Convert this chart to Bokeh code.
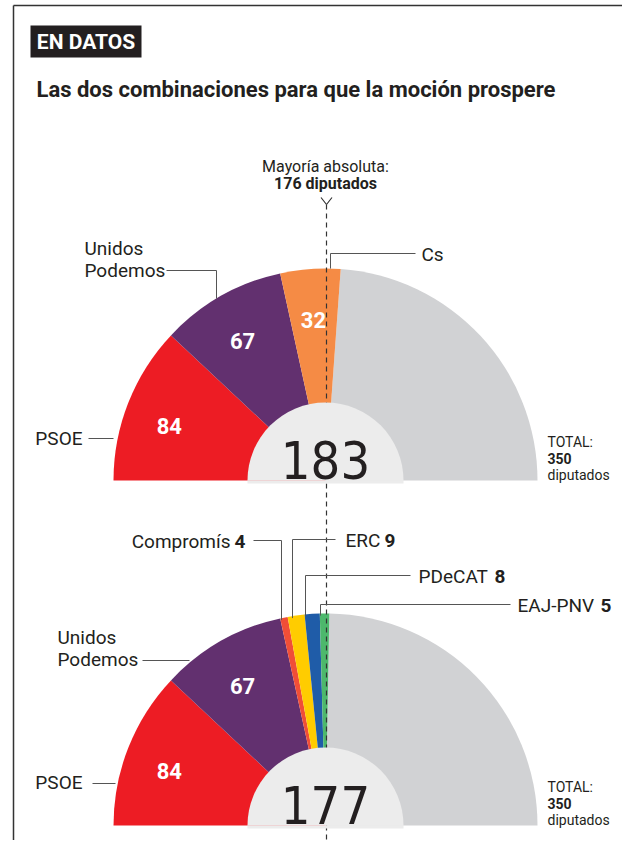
import math
from bokeh.plotting import figure
from bokeh.models import Range1d
from bokeh.core.properties import value
from bokeh.embed import file_html
from bokeh.resources import INLINE

# ---- data ----
TOTAL_SEATS = 350
MAJORITY = 176

top_parties = ["PSOE", "Unidos Podemos", "Cs"]
top_seats = [84, 67, 32]
top_colors = ["#ed1c24", "#62306f", "#f58b45"]

bot_parties = ["PSOE", "Unidos Podemos", "Compromís", "ERC", "PDeCAT", "EAJ-PNV"]
bot_seats = [84, 67, 4, 9, 8, 5]
bot_colors = ["#ed1c24", "#62306f", "#f04e37", "#ffcc00", "#1f5ca8", "#4db86c"]

REST_COLOR = "#d1d2d4"
INNER_COLOR = "#ececec"

W, H = 622, 840


def X(x):
    return x


def Y(y):
    return H - y


p = figure(width=W, height=H, output_backend="svg", toolbar_location=None,
           x_range=Range1d(0, W), y_range=Range1d(0, H),
           x_axis_location=None, y_axis_location=None, min_border=0)
p.grid.visible = False
p.outline_line_color = None
p.background_fill_color = "white"

LBL_FONT = value("Roboto")
BIG_FONT = value("DejaVu Sans Condensed, DejaVu Sans, Roboto")
DARK = "#231f20"
LINE = "#555555"

# frame border (top and left)
p.line([X(13), W], [Y(5), Y(5)], line_color="#333333", line_width=1.5)
p.line([X(13), X(13)], [Y(5), 0], line_color="#333333", line_width=1.5)

# header
p.quad(left=[X(30)], right=[X(141)], top=[Y(25)], bottom=[Y(57)], fill_color=DARK, line_color=None)
p.text([X(85.5)], [Y(41)], text=["EN DATOS"], text_color="white", text_font=LBL_FONT,
       text_font_style="bold", text_font_size="21px", text_align="center", text_baseline="middle")
p.text([X(36)], [Y(89)], text=["Las dos combinaciones para que la moción prospere"], text_color=DARK,
       text_font=LBL_FONT, text_font_style="bold", text_font_size="22px", text_align="left",
       text_baseline="middle")

R = 212
RI = 78
CX = 325
charts = [
    dict(cy=480, seats=top_seats, colors=top_colors),
    dict(cy=825, seats=bot_seats, colors=bot_colors),
]


def ang(s):
    return math.pi - s / TOTAL_SEATS * math.pi


# slices
for ch in charts:
    cum = 0
    starts, ends = [], []
    for s in ch["seats"]:
        starts.append(ang(cum))
        ends.append(ang(cum + s))
        cum += s
    ch["total"] = cum
    ch["starts"], ch["ends"] = starts, ends
    p.wedge(x=[X(CX)], y=[Y(ch["cy"])], radius=R, start_angle=[0], end_angle=[ang(cum)],
            fill_color=REST_COLOR, line_color=None)
    p.wedge(x=[X(CX)] * len(starts), y=[Y(ch["cy"])] * len(starts), radius=R,
            start_angle=ends, end_angle=starts, fill_color=ch["colors"], line_color=None)

# majority dashed line + marker
p.line([X(326), X(326)], [Y(204), 0], line_color="#333333", line_width=1.2, line_dash="5 4")
p.line([X(320.5), X(326), X(331.5)], [Y(197), Y(204), Y(197)], line_color="#333333", line_width=1.2)

LS = "19px"

# inner semicircles + big numbers
for ch in charts:
    p.wedge(x=[X(CX)], y=[Y(ch["cy"])], radius=RI, start_angle=[0], end_angle=[math.pi],
            fill_color=INNER_COLOR, line_color=None)
    p.quad(left=[X(CX - RI)], right=[X(CX + RI)], top=[Y(ch["cy"])], bottom=[Y(ch["cy"] + 3)],
           fill_color=INNER_COLOR, line_color=None)
    p.text([X(CX)], [Y(ch["cy"] - 21)], text=[str(ch["total"])], text_color=DARK,
           text_font=BIG_FONT, text_font_size="52px",
           text_align="center", text_baseline="middle")
    lx, ly, lt = [], [], []
    for s, a0, a1 in zip(ch["seats"], ch["starts"], ch["ends"]):
        if s >= 20:
            m = (a0 + a1) / 2
            lx.append(X(CX + 168 * math.cos(m)))
            ly.append(Y(ch["cy"] - 168 * math.sin(m) + 7))
            lt.append(str(s))
    p.text(lx, ly, text=lt, text_color="white", text_font=LBL_FONT, text_font_style="bold",
           text_font_size="22px", text_align="center", text_baseline="middle")
    # TOTAL block
    p.text([X(547)], [Y(ch["cy"] - 39)], text=["TOTAL:"], text_color=DARK, text_font=LBL_FONT,
           text_font_size="14px", text_align="left", text_baseline="middle")
    p.text([X(547)], [Y(ch["cy"] - 22.5)], text=[str(TOTAL_SEATS)], text_color=DARK, text_font=LBL_FONT,
           text_font_style="bold", text_font_size="14px", text_align="left", text_baseline="middle")
    p.text([X(547)], [Y(ch["cy"] - 6)], text=["diputados"], text_color=DARK, text_font=LBL_FONT,
           text_font_size="14px", text_align="left", text_baseline="middle")


def arc_y(cy, x):
    return cy - math.sqrt(R * R - (x - CX) ** 2)


def label(xs, ys, texts, align="left", bold=False, size=LS):
    p.text([X(v) for v in xs], [Y(v) for v in ys], text=texts, text_color=DARK, text_font=LBL_FONT,
           text_font_style="bold" if bold else "normal", text_font_size=size,
           text_align=align, text_baseline="middle")


# Mayoría absoluta
label([325], [166], ["Mayoría absoluta:"], align="center", size="16px")
label([325], [183], [f"{MAJORITY} diputados"], align="center", bold=True, size="16px")

# ---- top chart annotations ----
cy = 480
p.line([X(88), X(113)], [Y(438), Y(438)], line_color=LINE, line_width=1)
label([82], [438], [top_parties[0]], align="right")
p.line([X(166), X(216), X(216)], [Y(270), Y(270), Y(arc_y(cy, 216))], line_color=LINE, line_width=1)
label([84, 84], [248, 270], ["Unidos", "Podemos"])
p.line([X(415), X(330), X(330)], [Y(253), Y(253), Y(arc_y(cy, 330))], line_color=LINE, line_width=1)
label([421], [254], [top_parties[2]])

# ---- bottom chart annotations ----
cy = 825
p.line([X(92), X(115)], [Y(783), Y(783)], line_color=LINE, line_width=1)
label([82], [782], [bot_parties[0]], align="right")
p.line([X(142), X(189)], [Y(660), Y(660)], line_color=LINE, line_width=1)
label([57, 57], [637, 659], ["Unidos", "Podemos"])


def leader(ty, lx0, lx1, vx):
    p.line([X(lx0), X(lx1)], [Y(ty - 1), Y(ty - 1)], line_color=LINE, line_width=1)
    p.line([X(vx), X(vx)], [Y(ty - 1), Y(arc_y(cy, vx) + 2)], line_color=LINE, line_width=1)


# Compromís
leader(541, 253, 281, 281)
label([245], [541], [str(bot_seats[2])], align="right", bold=True)
label([230], [541], [bot_parties[2]], align="right")

# ERC, PDeCAT, EAJ-PNV
right_labels = [(bot_parties[3], bot_seats[3], 345, 384, 540, 292, 335),
                (bot_parties[4], bot_seats[4], 418, 494, 576, 305, 410),
                (bot_parties[5], bot_seats[5], 517, 600, 605, 320, 510)]
for name, seats, tx, nx, ty, vx, lx1 in right_labels:
    leader(ty, vx, lx1, vx)
    label([tx], [ty], [name])
    label([nx], [ty], [str(seats)], bold=True)

open("out.html", "w").write(file_html(p, INLINE))
